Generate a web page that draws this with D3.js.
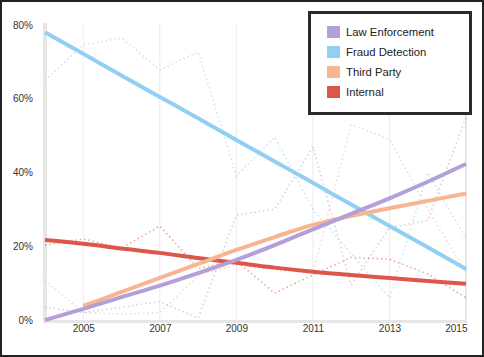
<!DOCTYPE html>
<html>
<head>
<meta charset="utf-8">
<script src="https://cdn.jsdelivr.net/npm/d3@7"></script>
<style>
  html, body { margin: 0; padding: 0; background: #fff; }
  svg { display: block; font-family: "Liberation Sans", Arial, Helvetica, sans-serif; }
</style>
</head>
<body>
<svg id="chart" width="484" height="357"></svg>
<script>
// ---- data ----
const years = [2004, 2005, 2006, 2007, 2008, 2009, 2010, 2011, 2012, 2013, 2014, 2015];
const seriesNames = ["Law Enforcement", "Fraud Detection", "Third Party", "Internal"];
const seriesColors = ["#b3a0d8", "#92d0f3", "#f9b592", "#dc5649"];

// yearly observed values (dotted)
const lawActual      = [3.5, 2, 3.5, 5, 0.5, 28.5, 30, 47, 9.5, 25, 27, 55];
const fraudActual    = [65, 74.6, 76.5, 67.8, 72.7, 39, 49.6, 30, 18, 6, 40, 22];
const thirdActual    = [10.8, 2, 1.6, 2, 12, 15, 13.5, 12.7, 53, 49, 30, 13];
const internalActual = [20.3, 22, 19.5, 25.5, 14, 16, 7.3, 12.2, 17, 16.5, 12.5, 6];

// trend lines (solid)
const lawTrend      = [0, 3.0, 6.2, 9.3, 12.7, 16.3, 20.3, 24.6, 28.8, 33, 37.5, 42.3];
const fraudTrend    = [78, 72.2, 66.3, 60.5, 54.7, 48.8, 43, 37.2, 31.3, 25.5, 19.7, 13.8];
const thirdTrend    = [null, 3.8, 7.6, 11.4, 15.2, 19, 22.5, 25.8, 28.2, 30.3, 32.3, 34.3];
const internalTrend = [21.7, 20.7, 19.4, 18.2, 16.8, 15.5, 14.2, 13.1, 12.2, 11.4, 10.6, 9.8];

const yTicks = [0, 20, 40, 60, 80];
const xTicks = [2005, 2007, 2009, 2011, 2013, 2015];

const actuals = [lawActual, fraudActual, thirdActual, internalActual];
const trends = [lawTrend, fraudTrend, thirdTrend, internalTrend];

// ---- drawing ----
const svg = d3.select("#chart");
const x = d3.scaleLinear().domain([2004, 2015]).range([45, 466]);
const y = d3.scaleLinear().domain([0, 80]).range([320, 25]);

// outer frame
svg.append("rect").attr("x", 1).attr("y", 1).attr("width", 482).attr("height", 355)
  .attr("fill", "#fff").attr("stroke", "#222").attr("stroke-width", 2);

// vertical grid lines
svg.append("g").selectAll("line").data(xTicks).join("line")
  .attr("x1", d => x(d)).attr("x2", d => x(d))
  .attr("y1", y(80) - 2).attr("y2", y(0))
  .attr("stroke", d => d === 2015 ? "#e6e6e6" : "#ececec")
  .attr("stroke-width", d => d === 2015 ? 2 : 1);

// left axis line + bottom axis line
svg.append("line").attr("x1", x(2004)).attr("x2", x(2004)).attr("y1", y(80) - 2).attr("y2", y(0) + 2)
  .attr("stroke", "#e6e6e6").attr("stroke-width", 4);
svg.append("line").attr("x1", x(2004) - 2).attr("x2", x(2015) + 1).attr("y1", y(0) + 1.5).attr("y2", y(0) + 1.5)
  .attr("stroke", "#e6e6e6").attr("stroke-width", 3);

// y axis labels
const yAxis = d3.axisLeft(y).tickValues(yTicks).tickSize(0).tickPadding(0).tickFormat(d => d + "%");
const gy = svg.append("g").attr("transform", "translate(33,0)").call(yAxis);
gy.select(".domain").remove();
gy.selectAll("text").attr("font-size", 10).attr("fill", "#333").attr("font-family", "Liberation Sans, Arial, sans-serif");

// x axis labels
const xAxis = d3.axisBottom(x).tickValues(xTicks).tickSize(0).tickPadding(0).tickFormat(d3.format("d"));
const gx = svg.append("g").attr("transform", "translate(0,325)").call(xAxis);
gx.select(".domain").remove();
gx.selectAll("text").attr("font-size", 10).attr("fill", "#333").attr("font-family", "Liberation Sans, Arial, sans-serif");
gx.selectAll(".tick").filter(d => d === 2015).select("text").attr("text-anchor", "end").attr("dx", "1");

// dotted actual lines
const lineGen = d3.line().defined(d => d.v !== null).x(d => x(d.year)).y(d => y(d.v));
actuals.forEach((arr, i) => {
  svg.append("path")
    .datum(years.map((yr, j) => ({ year: yr, v: arr[j] })))
    .attr("d", lineGen)
    .attr("fill", "none")
    .attr("stroke", seriesColors[i])
    .attr("stroke-opacity", 0.55)
    .attr("stroke-width", 1.6)
    .attr("stroke-dasharray", "1.4,3");
});

// trend lines
const trendGen = d3.line().defined(d => d.v !== null).curve(d3.curveMonotoneX).x(d => x(d.year)).y(d => y(d.v));
const order = [3, 1, 2, 0];
order.forEach(i => {
  svg.append("path")
    .datum(years.map((yr, j) => ({ year: yr, v: trends[i][j] })))
    .attr("d", trendGen)
    .attr("fill", "none")
    .attr("stroke", seriesColors[i])
    .attr("stroke-width", 4);
});

// legend
const lg = svg.append("g");
lg.append("rect").attr("x", 309.5).attr("y", 12.5).attr("width", 161).attr("height", 101)
  .attr("fill", "#fff").attr("stroke", "#2a2a2a").attr("stroke-width", 3);
seriesNames.forEach((name, i) => {
  const cy = 32 + i * 20;
  lg.append("rect").attr("x", 327).attr("y", cy - 6).attr("width", 13).attr("height", 12)
    .attr("fill", seriesColors[i]);
  lg.append("text").attr("x", 346).attr("y", cy + 4).attr("font-size", 11.3)
    .attr("fill", "#222").text(name);
});
</script>
</body>
</html>
